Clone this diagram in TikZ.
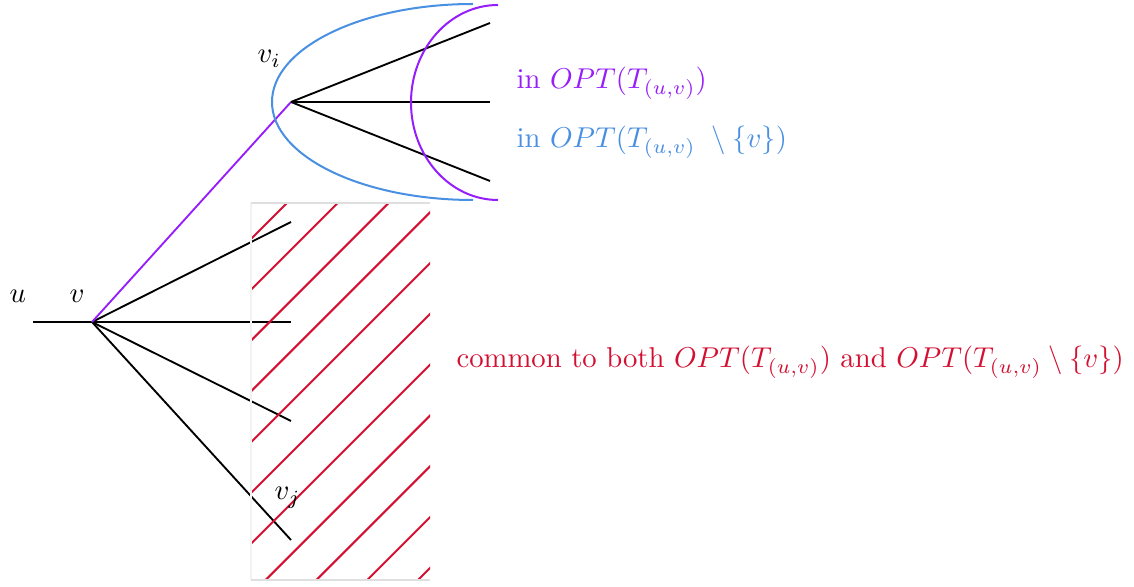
\documentclass[tikz,border=0pt]{standalone}
\usetikzlibrary{calc}
\definecolor{optpurple}{RGB}{150,30,250}
\definecolor{optblue}{RGB}{74,144,226}
\definecolor{optred}{RGB}{212,16,50}
\tikzset{
  edge/.style={black, line width=0.65pt},
  pedge/.style={optpurple, line width=0.65pt},
  hatch/.style={optred, line width=0.7pt},
  lbl/.style={inner sep=0pt, anchor=base west},
  pt/.style={inner sep=0pt, minimum size=0pt},
}
\begin{document}
\begin{tikzpicture}[x=0.01225cm, y=-0.01225cm]
\useasboundingbox (0,0) rectangle (1134,587);
% vertices
\coordinate (u) at (33,322);
\coordinate (v) at (92,322);
\coordinate (c1) at (291,222);
\coordinate (c2) at (291,322);
\coordinate (c3) at (291,421);
\coordinate (vj) at (291,540);
\coordinate (vi) at (291,102);
\coordinate (d1) at (490,23);
\coordinate (d2) at (490,102);
\coordinate (d3) at (490,181);
% edges
\draw[edge] (u) -- (v);
\draw[edge] (v) -- (c1);
\draw[edge] (v) -- (c2);
\draw[edge] (v) -- (c3);
\draw[edge] (v) -- (vj);
\draw[pedge] (v) -- (vi);
\draw[edge] (vi) -- (d1);
\draw[edge] (vi) -- (d2);
\draw[edge] (vi) -- (d3);
% hatched region
\coordinate (rA) at (251,203);
\coordinate (rB) at (430,580);
\begin{scope}
  \clip (rA) rectangle (rB);
  \foreach \k in {0,...,10} {
    \pgfmathsetmacro{\c}{490+50.8*\k}
    \draw[hatch] (\c-600,600) -- (\c-200,200);
  }
\end{scope}
\draw[white!90!gray, line width=0.7pt] (251,203) -- (251,580);
\draw[white!75!gray, line width=0.7pt] (251,203) -- (430,203);
\draw[white!75!gray, line width=0.7pt] (251,580) -- (430,580);
% curves
\draw[optblue, line width=0.7pt] (473,4) arc[start angle=90, end angle=270, x radius=201, y radius=-98];
\draw[optpurple, line width=0.7pt] (498,5) arc[start angle=90, end angle=270, x radius=87, y radius=-97.5];
% labels
\node[lbl] (lu) at (9,303) {$u$};
\node[lbl] (lv) at (69,303) {$v$};
\node[lbl] (lvi) at (257,63) {$v_i$};
\node[lbl] (lvj) at (274,500) {$v_j$};
\node[lbl, text=optpurple] (tp) at (516,89) {in $OPT(T_{(u,v)})$};
\node[lbl, text=optblue] (tb) at (516,148) {in $OPT(T_{(u,v)}\ \setminus \{v\})$};
\node[lbl, text=optred] (tr) at (456,368) {common to both $OPT(T_{(u,v)})$ and $OPT(T_{(u,v)}\setminus\{v\})$};
\end{tikzpicture}
\end{document}
